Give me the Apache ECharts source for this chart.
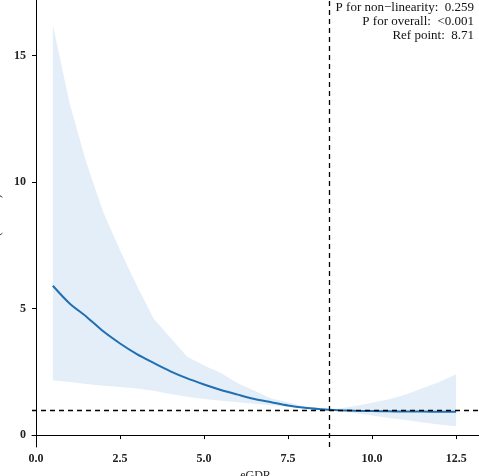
<!DOCTYPE html>
<html><head><meta charset="utf-8">
<script src="https://cdn.jsdelivr.net/npm/echarts@6/dist/echarts.min.js"></script>
<style>html,body{margin:0;padding:0;background:#fff}#c{width:479px;height:476px}</style>
</head><body><div id="c"></div>
<script>
const xs    = [0.5,1.0,1.5,2.0,2.5,3.0,3.5,4.0,4.5,5.0,5.5,6.0,6.5,7.0,7.5,8.0,8.5,8.71,9.0,9.5,10,10.5,11,11.5,12,12.5];
const upper = [16.2,13.1,10.75,8.8,7.3,5.9,4.6,3.85,3.1,2.75,2.45,2.05,1.75,1.45,1.3,1.12,1.03,1.0,1.05,1.15,1.28,1.42,1.6,1.85,2.1,2.4];
const curve = [5.9,5.2,4.68,4.1,3.62,3.2,2.85,2.52,2.24,2.0,1.78,1.6,1.43,1.3,1.17,1.08,1.02,1.0,0.98,0.96,0.95,0.94,0.93,0.93,0.92,0.92];
const lower = [2.17,2.1,2.02,1.95,1.9,1.84,1.75,1.62,1.52,1.43,1.36,1.3,1.24,1.18,1.12,1.06,1.01,1.0,0.95,0.86,0.77,0.68,0.6,0.5,0.42,0.35];
const xTicks = [0, 2.5, 5, 7.5, 10, 12.5];
const yTicks = [0, 5, 10, 15];
const refPoint = 8.71, refOR = 1;
const notes = ['P for non\u2212linearity:  0.259','P for overall:  <0.001','Ref point:  8.71'];

const font = 'Liberation Serif';
const chart = echarts.init(document.getElementById('c'));
chart.setOption({
  animation:false,
  grid:{left:32,right:0,top:0,bottom:29,containLabel:false,outerBoundsMode:'none'},
  xAxis:{type:'value',min:-0.12,max:13.18,name:'eGDR',nameLocation:'middle',nameGap:16,
    nameTextStyle:{fontFamily:font,fontSize:12,color:'#222'},
    splitLine:{show:false},axisLine:{lineStyle:{color:'#000'}},
    axisTick:{customValues:xTicks,length:4,lineStyle:{color:'#000'}},
    axisLabel:{customValues:xTicks,fontFamily:font,fontWeight:'bold',fontSize:12,color:'#222',margin:6,
      formatter:v=>v.toFixed(1)}},
  yAxis:{type:'value',min:-0.47,max:17.19,name:'OR(95%CI)',nameLocation:'middle',nameGap:20,
    nameTextStyle:{fontFamily:font,fontSize:12,color:'#222'},
    splitLine:{show:false},axisLine:{show:true,lineStyle:{color:'#000'}},
    axisTick:{show:true,customValues:yTicks,length:4,lineStyle:{color:'#000'}},
    axisLabel:{customValues:yTicks,fontFamily:font,fontWeight:'bold',fontSize:12,color:'#222',margin:6}},
  series:[
    {type:'custom',silent:true,data:[0],
      renderItem:(params,api)=>{
        const pts=xs.map((x,i)=>api.coord([x,upper[i]]));
        for(let i=xs.length-1;i>=0;i--) pts.push(api.coord([xs[i],lower[i]]));
        return {type:'polygon',shape:{points:pts},style:{fill:'#e3eef9'}};
      }},
    {type:'line',data:xs.map((x,i)=>[x,curve[i]]),symbol:'none',smooth:0.3,lineStyle:{color:'#1f6fb2',width:2},
      markLine:{symbol:'none',silent:true,label:{show:false},lineStyle:{color:'#000',type:[5,4],width:1.3},
        data:[{xAxis:refPoint},{yAxis:refOR}]}}
  ],
  graphic:notes.map((t,i)=>({type:'text',right:5,top:1+i*14,
    style:{text:t,fontFamily:font,fontSize:13,fill:'#111',textAlign:'right'}}))
});
</script></body></html>
